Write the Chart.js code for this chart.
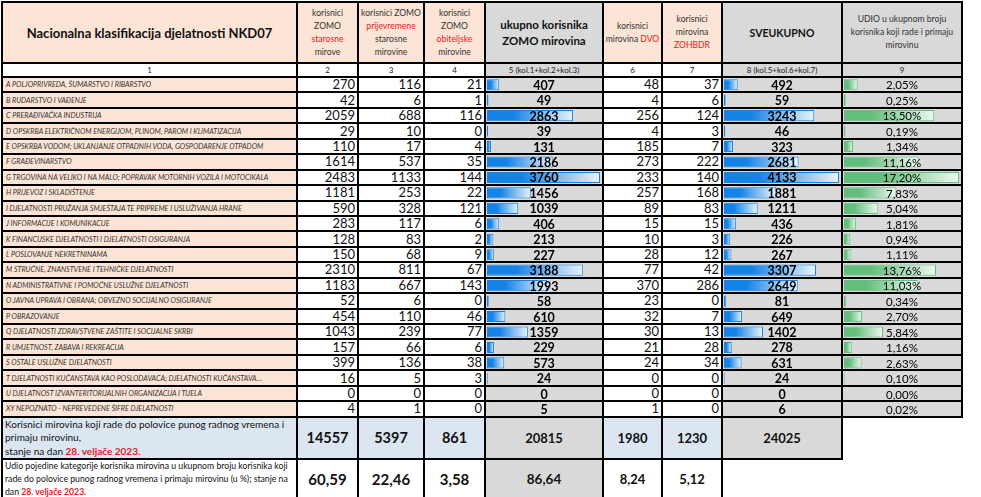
<!DOCTYPE html>
<html>
<head>
<meta charset="utf-8">
<script src="https://cdn.jsdelivr.net/npm/chart.js@4"></script>
<style>
  body { margin: 0; background: #fff; font-family: Lato, "Liberation Sans", sans-serif; }
  #wrap { position: relative; width: 981px; height: 497px; overflow: hidden; }
  table { position: absolute; left: 1px; top: 1px; border-collapse: collapse; table-layout: fixed; width: 962px; }
  td { border: 2px solid #000; padding: 0; overflow: hidden; text-align: center; color: #111; }
  td.none { border: none; background: #fff; }
  .peach { background: #fce4d6; }
  .gray { background: #d9d9d9; }
  .blue { background: #dce6f1; }
  .white { background: #fff; }
  .red { color: #e8191c; }
  .hsmall { font-size: 8.6px; line-height: 13px; color: #333; }
  .hbig { font-size: 11.5px; line-height: 16px; font-weight: bold; }
  .title { font-size: 13px; font-weight: bold; }
  .colno td { font-size: 8px; line-height: 10px; color: #222; }
  .lbl { font-style: italic; font-size: 7.2px; color: #333; text-align: left; padding-left: 3px; white-space: nowrap; }
  .num { text-align: right; padding-right: 2px; font-size: 13px; line-height: 13px; }
  .foot1 { text-align: left; font-size: 10px; line-height: 13.5px; white-space: nowrap; padding-left: 2px; }
  .foot2 { text-align: left; font-size: 8.7px; line-height: 12.8px; white-space: nowrap; padding-left: 2px; }
  .ftot { font-weight: bold; font-size: 14.5px; }
  .fsub { font-weight: bold; font-size: 13px; }
  .bars { position: absolute; }
</style>
</head>
<body>
<div id="wrap">
  <table id="tbl">
    <colgroup>
      <col style="width:295px"><col style="width:61px"><col style="width:66px"><col style="width:61px">
      <col style="width:118px"><col style="width:59px"><col style="width:60px"><col style="width:120px"><col style="width:120px">
    </colgroup>
    <tbody id="tb"></tbody>
  </table>
</div>
<script>
// NKD07 sectors (column 1)
const sectors = [
  'A POLJOPRIVREDA, ŠUMARSTVO I RIBARSTVO',
  'B RUDARSTVO I VAĐENJE',
  'C PRERAĐIVAČKA INDUSTRIJA',
  'D OPSKRBA ELEKTRIČNOM ENERGIJOM, PLINOM, PAROM I KLIMATIZACIJA',
  'E OPSKRBA VODOM; UKLANJANJE OTPADNIH VODA, GOSPODARENJE OTPADOM',
  'F GRAĐEVINARSTVO',
  'G TRGOVINA NA VELIKO I NA MALO; POPRAVAK MOTORNIH VOZILA I MOTOCIKALA',
  'H PRIJEVOZ I SKLADIŠTENJE',
  'I DJELATNOSTI PRUŽANJA SMJEŠTAJA TE PRIPREME I USLUŽIVANJA HRANE',
  'J INFORMACIJE I KOMUNIKACIJE',
  'K FINANCIJSKE DJELATNOSTI I DJELATNOSTI OSIGURANJA',
  'L POSLOVANJE NEKRETNINAMA',
  'M STRUČNE, ZNANSTVENE I TEHNIČKE DJELATNOSTI',
  'N ADMINISTRATIVNE I POMOĆNE USLUŽNE DJELATNOSTI',
  'O JAVNA UPRAVA I OBRANA; OBVEZNO SOCIJALNO OSIGURANJE',
  'P OBRAZOVANJE',
  'Q DJELATNOSTI ZDRAVSTVENE ZAŠTITE I SOCIJALNE SKRBI',
  'R UMJETNOST, ZABAVA I REKREACIJA',
  'S OSTALE USLUŽNE DJELATNOSTI',
  'T DJELATNOSTI KUĆANSTAVA KAO POSLODAVACA; DJELATNOSTI KUĆANSTAVA...',
  'U DJELATNOST  IZVANTERITORIJALNIH ORGANIZACIJA I TIJELA',
  'XY NEPOZNATO - NEPREVEDENE ŠIFRE DJELATNOSTI'
];

// columns 2-9
const zomoStarosne     = [270, 42, 2059, 29, 110, 1614, 2483, 1181, 590, 283, 128, 150, 2310, 1183, 52, 454, 1043, 157, 399, 16, 0, 4];
const zomoPrijevremene = [116, 6, 688, 10, 17, 537, 1133, 253, 328, 117, 83, 68, 811, 667, 6, 110, 239, 66, 136, 5, 0, 1];
const zomoObiteljske   = [21, 1, 116, 0, 4, 35, 144, 22, 121, 6, 2, 9, 67, 143, 0, 46, 77, 6, 38, 3, 0, 0];
const zomoUkupno       = [407, 49, 2863, 39, 131, 2186, 3760, 1456, 1039, 406, 213, 227, 3188, 1993, 58, 610, 1359, 229, 573, 24, 0, 5];
const dvo              = [48, 4, 256, 4, 185, 273, 233, 257, 89, 15, 10, 28, 77, 370, 23, 32, 30, 21, 24, 0, 0, 1];
const zohbdr           = [37, 6, 124, 3, 7, 222, 140, 168, 83, 15, 3, 12, 42, 286, 0, 7, 13, 28, 34, 0, 0, 0];
const sveukupno        = [492, 59, 3243, 46, 323, 2681, 4133, 1881, 1211, 436, 226, 267, 3307, 2649, 81, 649, 1402, 278, 631, 24, 0, 6];
const udio             = [2.05, 0.25, 13.50, 0.19, 1.34, 11.16, 17.20, 7.83, 5.04, 1.81, 0.94, 1.11, 13.76, 11.03, 0.34, 2.70, 5.84, 1.16, 2.63, 0.10, 0.00, 0.02];

// footer rows (columns 2-8)
const totals = [14557, 5397, 861, 20815, 1980, 1230, 24025];
const shares = [60.59, 22.46, 3.58, 86.64, 8.24, 5.12];

const colNumbers = ['1', '2', '3', '4', '5 (kol.1+kol.2+kol.3)', '6', '7', '8 (kol.5+kol.6+kol.7)', '9'];
const reportDate = '28. veljače 2023.';

const comma = (v, d) => v.toFixed(d).replace('.', ',');

// ---- table ----
const tb = document.getElementById('tb');
let html = '';
html += '<tr style="height:61px">' +
  '<td class="peach title">Nacionalna klasifikacija djelatnosti NKD07</td>' +
  '<td class="peach hsmall">korisnici<br>ZOMO<br><span class="red">starosne</span><br>mirove</td>' +
  '<td class="peach hsmall">korisnici ZOMO<br><span class="red">prijevremene</span><br>starosne<br>mirovine</td>' +
  '<td class="peach hsmall">korisnici<br>ZOMO<br><span class="red">obiteljske</span><br>mirovine</td>' +
  '<td class="gray hbig">ukupno korisnika<br>ZOMO mirovina</td>' +
  '<td class="peach hsmall">korisnici<br>mirovina <span class="red">DVO</span></td>' +
  '<td class="peach hsmall">korisnici<br>mirovina<br><span class="red">ZOHBDR</span></td>' +
  '<td class="gray hbig" style="font-size:10.5px">SVEUKUPNO</td>' +
  '<td class="gray hsmall">UDIO u ukupnom broju<br>korisnika koji rade i primaju<br>mirovinu</td></tr>';

const noBg = ['white', 'white', 'white', 'white', 'gray', 'white', 'white', 'gray', 'gray'];
html += '<tr class="colno" style="height:14px">' +
  colNumbers.map((t, i) => '<td class="' + noBg[i] + '">' + t + '</td>').join('') + '</tr>';

sectors.forEach((s, i) => {
  html += '<tr style="height:15.45px">' +
    '<td class="peach lbl">' + s + '</td>' +
    '<td class="white num">' + zomoStarosne[i] + '</td>' +
    '<td class="white num">' + zomoPrijevremene[i] + '</td>' +
    '<td class="white num">' + zomoObiteljske[i] + '</td>' +
    '<td class="gray' + (i === 0 ? ' c5' : '') + (i === sectors.length - 1 ? ' c5e' : '') + '"></td>' +
    '<td class="white num">' + dvo[i] + '</td>' +
    '<td class="white num">' + zohbdr[i] + '</td>' +
    '<td class="gray' + (i === 0 ? ' c8' : '') + (i === sectors.length - 1 ? ' c8e' : '') + '"></td>' +
    '<td class="gray' + (i === 0 ? ' c9' : '') + (i === sectors.length - 1 ? ' c9e' : '') + '"></td></tr>';
});

const dateSpan = '<b class="red">' + reportDate + '</b>';
html += '<tr style="height:40px">' +
  '<td class="blue foot1">Korisnici mirovina koji rade do polovice punog radnog vremena i<br>primaju mirovinu,<br>stanje na dan ' + dateSpan + '</td>' +
  '<td class="blue ftot">' + totals[0] + '</td>' +
  '<td class="blue ftot">' + totals[1] + '</td>' +
  '<td class="blue ftot">' + totals[2] + '</td>' +
  '<td class="gray fsub">' + totals[3] + '</td>' +
  '<td class="blue fsub">' + totals[4] + '</td>' +
  '<td class="blue fsub">' + totals[5] + '</td>' +
  '<td class="gray fsub">' + totals[6] + '</td>' +
  '<td class="none"></td></tr>';
html += '<tr style="height:39px">' +
  '<td class="white foot2">Udio pojedine kategorije korisnika mirovina u ukupnom broju korisnika koji<br>rade do polovice punog radnog vremena i primaju mirovinu (u %); stanje na<br>dan ' + dateSpan + '</td>' +
  '<td class="white ftot" style="font-size:15px">' + comma(shares[0], 2) + '</td>' +
  '<td class="white ftot" style="font-size:15px">' + comma(shares[1], 2) + '</td>' +
  '<td class="white ftot" style="font-size:15px">' + comma(shares[2], 2) + '</td>' +
  '<td class="gray fsub" style="font-size:13.5px">' + comma(shares[3], 2) + '</td>' +
  '<td class="white fsub">' + comma(shares[4], 2) + '</td>' +
  '<td class="white fsub">' + comma(shares[5], 2) + '</td>' +
  '<td class="none"></td><td class="none"></td></tr>';
tb.innerHTML = html;

// ---- data bars (Chart.js) ----
function gradientFill(solid, light) {
  return function (context) {
    const chart = context.chart;
    if (!chart.chartArea || context.type !== 'data') return solid;
    const x0 = chart.scales.x.getPixelForValue(0);
    const x1 = chart.scales.x.getPixelForValue(context.raw);
    if (x1 - x0 < 2) return solid;
    const g = chart.ctx.createLinearGradient(x0, 0, x1, 0);
    g.addColorStop(0, solid);
    g.addColorStop(0.3, solid);
    g.addColorStop(1, light);
    return g;
  };
}

const valueLabels = {
  id: 'valueLabels',
  afterDatasetsDraw(chart, args, opts) {
    const c = chart.ctx;
    const meta = chart.getDatasetMeta(0);
    const data = chart.data.datasets[0].data;
    c.save();
    c.font = opts.font;
    c.fillStyle = '#000';
    c.textAlign = 'center';
    c.textBaseline = 'middle';
    meta.data.forEach((bar, i) => {
      c.fillText(opts.format(data[i]), chart.width / 2, bar.y + 1);
    });
    c.restore();
  }
};

function dataBars(firstSel, lastSel, values, solid, light, font, format) {
  const wrap = document.getElementById('wrap').getBoundingClientRect();
  const a = document.querySelector(firstSel).getBoundingClientRect();
  const b = document.querySelector(lastSel).getBoundingClientRect();
  const canvas = document.createElement('canvas');
  canvas.className = 'bars';
  const w = Math.round(a.width - 2), h = Math.round(b.bottom - a.top);
  canvas.width = w;
  canvas.height = h;
  canvas.style.left = (a.left - wrap.left + 1) + 'px';
  canvas.style.top = (a.top - wrap.top) + 'px';
  canvas.style.width = w + 'px';
  canvas.style.height = h + 'px';
  document.getElementById('wrap').appendChild(canvas);

  return new Chart(canvas.getContext('2d'), {
    type: 'bar',
    data: {
      labels: sectors.map(s => s.split(' ')[0]),
      datasets: [{
        data: values,
        backgroundColor: gradientFill(solid, light),
        borderColor: solid,
        borderWidth: 1,
        borderSkipped: false,
        barPercentage: 0.72,
        categoryPercentage: 1
      }]
    },
    options: {
      indexAxis: 'y',
      responsive: false,
      animation: false,
      layout: { padding: { left: 1, right: 2, top: 0, bottom: 0 } },
      scales: {
        x: { display: false, min: 0, max: Math.max(...values) },
        y: { display: false }
      },
      plugins: {
        legend: { display: false },
        tooltip: { enabled: false },
        valueLabels: { font: font, format: format }
      }
    },
    plugins: [valueLabels]
  });
}

dataBars('.c5', '.c5e', zomoUkupno, '#1582e6', '#eaf4fd', 'bold 12.5px Lato', v => String(v));
dataBars('.c8', '.c8e', sveukupno, '#1582e6', '#eaf4fd', 'bold 12.5px Lato', v => String(v));
dataBars('.c9', '.c9e', udio, '#63be7b', '#eef8f1', '11.5px Lato', v => comma(v, 2) + '%');
</script>
</body>
</html>
